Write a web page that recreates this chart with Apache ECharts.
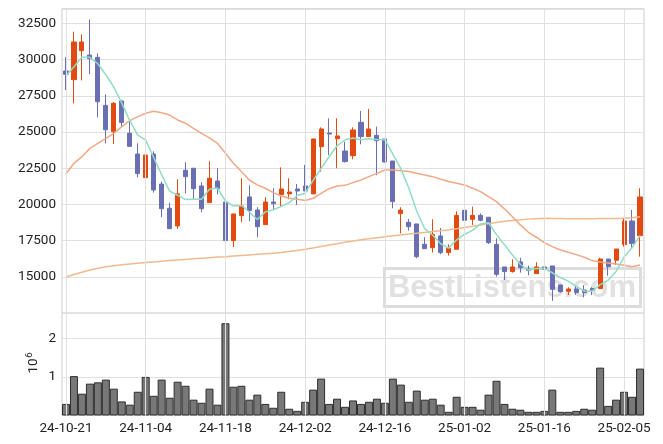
<!DOCTYPE html>
<html><head><meta charset="utf-8">
<script src="https://cdn.jsdelivr.net/npm/echarts@6/dist/echarts.min.js"></script>
<style>html,body{margin:0;padding:0;background:#fff}#c{width:663px;height:444px}</style>
</head><body><div id="c"></div>
<script>
const dates = ['24-10-21','24-10-22','24-10-23','24-10-24','24-10-25','24-10-28','24-10-29','24-10-30','24-10-31','24-11-01',
'24-11-04','24-11-05','24-11-06','24-11-07','24-11-08','24-11-11','24-11-12','24-11-13','24-11-14','24-11-15',
'24-11-18','24-11-19','24-11-20','24-11-21','24-11-22','24-11-25','24-11-26','24-11-27','24-11-28','24-11-29',
'24-12-02','24-12-03','24-12-04','24-12-05','24-12-06','24-12-09','24-12-10','24-12-11','24-12-12','24-12-13',
'24-12-16','24-12-17','24-12-18','24-12-19','24-12-20','24-12-23','24-12-24','24-12-26','24-12-27','24-12-30',
'25-01-02','25-01-03','25-01-06','25-01-07','25-01-08','25-01-09','25-01-10','25-01-13','25-01-14','25-01-15',
'25-01-16','25-01-17','25-01-20','25-01-21','25-01-22','25-01-23','25-01-24','25-01-31','25-02-03','25-02-04',
'25-02-05','25-02-06','25-02-07'];
const tickDates = ['24-10-21','24-11-04','24-11-18','24-12-02','24-12-16','25-01-02','25-01-16','25-02-05'];
const opens = [29210,28610,30610,30310,30150,26840,25020,27140,24910,23480,
21850,23480,21410,19740,18520,22360,22500,21280,20130,21620,
20170,17510,19230,20520,19620,18610,20170,20680,20730,21070,
21280,20730,23990,24930,24540,23690,23370,25670,24680,24770,
24520,23000,19370,18770,18660,17250,17020,17830,16680,16910,
19600,18980,19250,19120,17250,15690,15370,16040,15550,15230,
15690,15760,14450,14010,14170,14100,14200,14200,16240,16150,
17230,18860,17850];
const closes = [28980,31210,31210,30060,27090,25160,26980,25650,24010,22130,
23410,21000,19710,18330,20730,21920,21090,19710,21810,21090,
17510,19350,19900,19580,18470,20170,20060,21070,20860,20930,
20930,24520,25210,24860,24730,22960,25140,24680,25210,24400,
22930,20200,19620,18470,16400,16950,17940,16680,16980,19250,
18910,19250,18910,17370,15180,15370,15690,15640,15460,15690,
15530,14150,13990,14170,13920,13920,14080,16240,15710,16930,
18860,17300,20520];
const lows = [27900,26980,28560,29000,26010,24220,24170,25320,24010,21870,
20700,20820,19120,18330,18330,20770,20310,19460,20130,20700,
15020,17050,18770,18840,17740,18610,19670,19850,20360,19970,
20930,20730,22270,23410,22500,22890,23120,24150,24680,22020,
22890,19740,18010,18200,16290,16950,16680,16560,16470,16910,
18750,18590,18840,17280,15020,14790,15300,15300,15120,15230,
15370,13350,13920,13760,13760,13600,13760,14200,15090,15830,
17090,16980,16400];
const highs = [30160,31920,31740,32770,30430,27600,27070,27210,25870,24220,
24080,23670,21580,20130,21740,22910,22500,21530,22980,22500,
20170,19350,21810,21320,19810,20500,21120,22560,21810,21410,
22730,24520,25320,25940,25940,24330,25320,26450,26590,25370,
24520,23000,19810,19000,18660,17740,18980,18380,17250,19530,
19600,19850,19390,19120,17670,15690,16220,16330,15780,16010,
16010,15760,14450,14290,14430,14430,14290,16330,16240,16930,
19090,19620,21120];
const volumes = [300000,1020000,565000,825000,860000,930000,695000,365000,280000,615000,
1000000,510000,930000,460000,875000,770000,410000,330000,695000,280000,
2390000,745000,770000,410000,540000,300000,200000,615000,175000,120000,
355000,670000,955000,300000,435000,225000,390000,300000,355000,435000,
330000,955000,800000,355000,645000,410000,435000,280000,95000,485000,
225000,225000,150000,540000,900000,300000,175000,150000,95000,95000,
120000,670000,95000,95000,120000,175000,150000,1240000,250000,410000,
615000,485000,1215000];
const ma5 = [28860,29500,30150,30150,29710,28950,28100,26990,25780,24790,
24440,23240,22050,20920,20640,20340,20360,20360,21050,21130,
20240,19890,19930,19480,18960,19490,19640,19870,20130,20620,
20770,21660,22490,23290,24050,24450,24580,24470,24540,24480,
24470,23480,22470,21130,19530,18330,17880,17290,16990,17560,
17950,18210,18660,18740,17920,17230,16510,15860,15480,15580,
15600,15290,14960,14710,14350,14030,14020,14470,14770,15380,
16370,17010,17870];
const ma20 = [22100,22840,23300,23870,24220,24560,24910,25370,25780,26060,
26290,26430,26330,26170,25830,25600,25250,24900,24600,24220,
23530,22840,22270,21690,21350,21120,20820,20590,20430,20360,
20270,20430,20770,21090,21280,21320,21510,21690,21920,22150,
22380,22380,22330,22270,22150,22040,21920,21740,21580,21460,
21350,21120,20890,20540,20200,19700,19160,18590,18080,17740,
17370,17090,16860,16700,16540,16360,16130,16040,15970,15900,
15810,15710,15830];
const maLong = [15000,15170,15330,15480,15600,15700,15780,15840,15900,15950,
15990,16040,16090,16130,16170,16210,16250,16290,16330,16370,
16400,16440,16480,16520,16560,16600,16640,16680,16750,16830,
16910,17000,17100,17200,17290,17390,17480,17560,17640,17710,
17780,17840,17900,17960,18010,18070,18130,18190,18250,18330,
18410,18500,18590,18680,18760,18840,18900,18940,18990,19020,
19050,19040,19030,19020,19020,19020,19020,19030,19040,19040,
19050,19090,19160];
const priceTicks = [15000,17500,20000,22500,25000,27500,30000,32500];
const volumeTicks = [1,2];
const volumeExponent = '6';

const UP = '#E34A12', DOWN = '#6A6FB4';
const GRID = '#e0e0e0', FRAME = '#cccccc';
const FONT = 'Roboto';
const chart = echarts.init(document.getElementById('c'), null, {renderer: 'canvas'});
const gridLeft = 62, gridWidth = 582;
const priceMin = 12500, priceMax = 33500;
const volMax = 2650000;

const vlineData = tickDates.map(d => ({xAxis: d}));
const vlineStyle = {color: GRID, width: 1, type: 'solid'};

chart.setOption({
  animation: false,
  textStyle: {fontFamily: FONT},
  grid: [
    {left: gridLeft, width: gridWidth, top: 8.8, height: 304.4, show: true, borderColor: FRAME, borderWidth: 1, backgroundColor: 'transparent'},
    {left: gridLeft, width: gridWidth, top: 313.2, height: 102.3, show: true, borderColor: FRAME, borderWidth: 1, backgroundColor: 'transparent'}
  ],
  xAxis: [
    {type: 'category', gridIndex: 0, data: dates, boundaryGap: true,
     axisLine: {show: false}, axisTick: {show: false}, axisLabel: {show: false}, splitLine: {show: false}},
    {type: 'category', gridIndex: 1, data: dates, boundaryGap: true,
     axisLine: {show: false}, axisTick: {show: false}, splitLine: {show: false},
     axisLabel: {show: true, interval: 9, color: '#222', fontSize: 13.5, margin: 6, fontFamily: FONT}}
  ],
  yAxis: [
    {type: 'value', gridIndex: 0, min: priceMin, max: priceMax, interval: 2500,
     axisLine: {show: false}, axisTick: {show: false},
     splitLine: {show: true, lineStyle: {color: GRID, width: 1}},
     axisLabel: {color: '#222', fontSize: 13.5, margin: 6, fontFamily: FONT, showMinLabel: false, showMaxLabel: false,
       formatter: v => priceTicks.indexOf(v) >= 0 ? String(v) : ''}},
    {type: 'value', gridIndex: 1, min: 0, max: volMax, interval: 1000000,
     axisLine: {show: false}, axisTick: {show: false},
     splitLine: {show: true, lineStyle: {color: GRID, width: 1}},
     axisLabel: {color: '#222', fontSize: 13.5, margin: 6, fontFamily: FONT, showMinLabel: false, showMaxLabel: false,
       formatter: v => { const m = Math.round(v / 1e6); return volumeTicks.indexOf(m) >= 0 && Math.abs(v - m * 1e6) < 1 ? String(m) : ''; }}}
  ],
  series: [
    {type: 'line', xAxisIndex: 0, yAxisIndex: 0, data: dates.map(() => null), z: 1, silent: true, showSymbol: false,
     markLine: {silent: true, symbol: ['none', 'none'], label: {show: false}, lineStyle: vlineStyle, data: vlineData, animation: false}},
    {type: 'line', xAxisIndex: 1, yAxisIndex: 1, data: dates.map(() => null), z: 1, silent: true, showSymbol: false,
     markLine: {silent: true, symbol: ['none', 'none'], label: {show: false}, lineStyle: vlineStyle, data: vlineData, animation: false}},
    {type: 'candlestick', xAxisIndex: 0, yAxisIndex: 0, z: 3, barWidth: 4.6,
     data: dates.map((d, i) => [opens[i], closes[i], lows[i], highs[i]]),
     itemStyle: {color: UP, color0: DOWN, borderColor: UP, borderColor0: DOWN, borderWidth: 1}},
    {type: 'line', name: 'MA long', xAxisIndex: 0, yAxisIndex: 0, data: maLong, showSymbol: false, z: 4,
     lineStyle: {color: '#F2B98F', width: 1.5}},
    {type: 'line', name: 'MA20', xAxisIndex: 0, yAxisIndex: 0, data: ma20, showSymbol: false, z: 4,
     lineStyle: {color: '#F0A886', width: 1.5}},
    {type: 'line', name: 'MA5', xAxisIndex: 0, yAxisIndex: 0, data: ma5, showSymbol: false, z: 4,
     lineStyle: {color: '#92DCC3', width: 1.5}},
    {type: 'bar', xAxisIndex: 1, yAxisIndex: 1, data: volumes, barCategoryGap: '0%', z: 3,
     itemStyle: {color: '#787878', borderColor: '#2e2e2e', borderWidth: 1}}
  ],
  graphic: [
    {type: 'group', left: 383, top: 267, z: 100, silent: true, children: [
      {type: 'rect', shape: {x: 1.5, y: 1.5, width: 256, height: 38}, style: {fill: 'rgba(255,255,255,0.25)', stroke: 'rgba(205,205,205,0.7)', lineWidth: 3}},
      {type: 'text', style: {text: 'BestListens.com', x: 129, y: 21, align: 'center', verticalAlign: 'middle',
        font: 'bold 31px "Liberation Sans"', fill: 'rgba(200,200,200,0.55)'}}
    ]},
    {type: 'text', x: 34, y: 366, z: 100, rotation: Math.PI / 2, silent: true,
     style: {text: '10', font: '13.5px Roboto', fill: '#222', align: 'center', verticalAlign: 'middle'}},
    {type: 'text', x: 29.5, y: 355, z: 100, rotation: Math.PI / 2, silent: true,
     style: {text: volumeExponent, font: '9.5px Roboto', fill: '#222', align: 'center', verticalAlign: 'middle'}}
  ]
});
</script></body></html>
